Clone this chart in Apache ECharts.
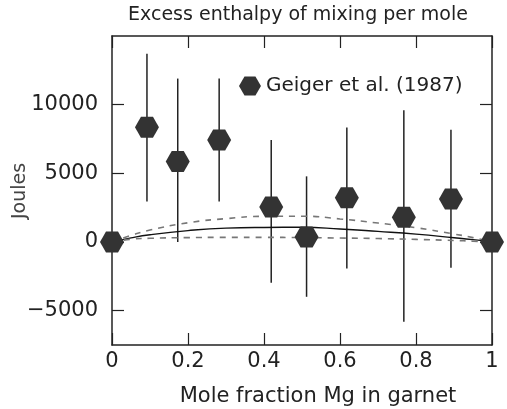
<!DOCTYPE html>
<html>
<head>
<meta charset="utf-8">
<script src="https://cdn.jsdelivr.net/npm/echarts@6/dist/echarts.min.js"></script>
<style>
html, body { margin: 0; padding: 0; background: #fff; }
#chart { width: 507px; height: 409px; }
</style>
</head>
<body>
<div id="chart"></div>
<script>
// measured points (Geiger et al. 1987)
const molFrac = [0, 0.092, 0.173, 0.282, 0.419, 0.512, 0.618, 0.768, 0.892, 1];
const enthalpy = [0, 8350, 5870, 7420, 2540, 360, 3220, 1810, 3140, 0];
const errLow = [null, 2950, 0, 2950, -2970, -3990, -1930, -5800, -1880, null];
const errHigh = [null, 13700, 11900, 11900, 7420, 4780, 8330, 9590, 8170, null];

// model curve and its bounds
const curveX = [0, 0.05, 0.1, 0.2, 0.3, 0.4, 0.5, 0.6, 0.7, 0.8, 0.9, 0.95, 1];
const modelMid = [0, 300, 530, 830, 1010, 1060, 1070, 950, 770, 570, 310, 170, 0];
const modelHigh = [0, 480, 870, 1400, 1700, 1870, 1880, 1680, 1380, 1040, 580, 320, 0];
const modelLow = [0, 200, 270, 320, 340, 340, 320, 290, 250, 190, 110, 60, 0];

const yTicks = [-5000, 0, 5000, 10000];

const hexagon = 'path://M0,866L500,0L1500,0L2000,866L1500,1732L500,1732Z';
const ink = '#222';
const font = 'DejaVu Sans';

const pairs = (xs, ys) => xs.map((x, i) => [x, ys[i]]);

const bars = molFrac
    .map((x, i) => [x, errLow[i], errHigh[i]])
    .filter(d => d[1] !== null);

const chart = echarts.init(document.getElementById('chart'));

const axisLine = { show: true, onZero: false, lineStyle: { color: ink, width: 1.5 } };
const tick = { show: true, inside: true, length: 12, lineStyle: { color: ink, width: 1.2 } };

chart.setOption({
    animation: false,
    textStyle: { fontFamily: font },
    grid: { left: 112, right: 15, top: 36, bottom: 64 },
    legend: {
        data: ['Geiger et al. (1987)'],
        left: 234,
        top: 71,
        icon: hexagon,
        itemWidth: 22,
        itemHeight: 19,
        textStyle: { fontSize: 20, color: ink, fontFamily: font },
        selectedMode: false
    },
    graphic: [
        {
            type: 'text', x: 298, y: 15,
            style: { text: 'Excess enthalpy of mixing per mole', font: '19px "DejaVu Sans"', fill: ink, align: 'center', verticalAlign: 'middle' }
        },
        {
            type: 'text', x: 318, y: 397,
            style: { text: 'Mole fraction Mg in garnet', font: '21px "DejaVu Sans"', fill: ink, align: 'center', verticalAlign: 'middle' }
        },
        {
            type: 'text', x: 20, y: 191, rotation: Math.PI / 2,
            style: { text: 'Joules', font: '19px "DejaVu Sans"', fill: '#444', align: 'center', verticalAlign: 'middle' }
        }
    ],
    xAxis: [
        {
            type: 'value', min: 0, max: 1, interval: 0.2, position: 'bottom',
            axisLine: axisLine, axisTick: tick, splitLine: { show: false },
            axisLabel: { fontSize: 21, color: ink, margin: 6, fontFamily: font }
        },
        {
            type: 'value', min: 0, max: 1, interval: 0.2, position: 'top',
            axisLine: axisLine, axisTick: tick, splitLine: { show: false },
            axisLabel: { show: false }
        }
    ],
    yAxis: [
        {
            type: 'value', min: -7500, max: 15000, position: 'left',
            axisLine: axisLine, splitLine: { show: false },
            axisTick: Object.assign({ customValues: yTicks }, tick),
            axisLabel: {
                customValues: yTicks, fontSize: 21, color: ink, margin: 14, fontFamily: font,
                formatter: v => (v < 0 ? '\u2212' + Math.abs(v) : String(v))
            }
        },
        {
            type: 'value', min: -7500, max: 15000, position: 'right',
            axisLine: axisLine, splitLine: { show: false },
            axisTick: Object.assign({ customValues: yTicks }, tick),
            axisLabel: { show: false }
        }
    ],
    series: [
        {
            type: 'custom',
            data: bars,
            z: 2,
            renderItem: (params, api) => {
                const p1 = api.coord([api.value(0), api.value(1)]);
                const p2 = api.coord([api.value(0), api.value(2)]);
                return {
                    type: 'line',
                    shape: { x1: p1[0], y1: p1[1], x2: p2[0], y2: p2[1] },
                    style: { stroke: ink, lineWidth: 1.5 }
                };
            }
        },
        {
            type: 'line', data: pairs(curveX, modelMid), smooth: true, showSymbol: false, z: 3,
            lineStyle: { color: '#111', width: 1.4 }
        },
        {
            type: 'line', data: pairs(curveX, modelHigh), smooth: true, showSymbol: false, z: 3,
            lineStyle: { color: '#777', width: 1.6, type: [6, 6] }
        },
        {
            type: 'line', data: pairs(curveX, modelLow), smooth: true, showSymbol: false, z: 3,
            lineStyle: { color: '#777', width: 1.6, type: [6, 6] }
        },
        {
            name: 'Geiger et al. (1987)',
            type: 'scatter',
            data: pairs(molFrac, enthalpy),
            symbol: hexagon,
            symbolSize: [24, 21],
            z: 5,
            itemStyle: { color: '#333', opacity: 1 }
        }
    ]
});
</script>
</body>
</html>
